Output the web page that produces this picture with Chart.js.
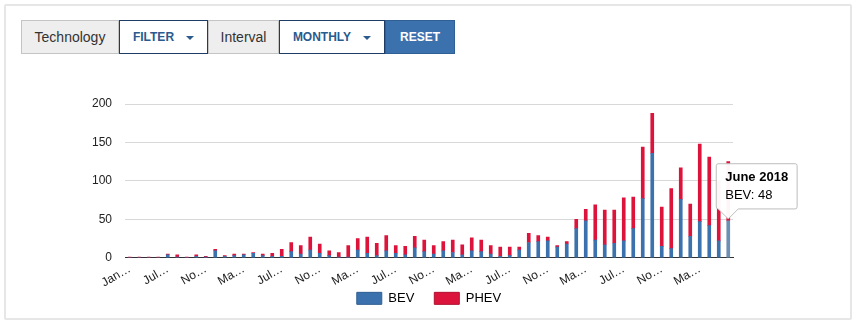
<!DOCTYPE html>
<html>
<head>
<meta charset="utf-8">
<script src="https://cdn.jsdelivr.net/npm/chart.js@4.4.0/dist/chart.umd.min.js"></script>
<style>
  body { margin: 0; background: #fff; font-family: "Liberation Sans", Arial, sans-serif; overflow: hidden; }
  .panel { position: absolute; left: 4px; top: 4px; width: 844px; height: 312px; border: 2px solid #e6e6e6; border-radius: 2px; }
  .toolbar { position: absolute; left: 21px; top: 20px; height: 34px; display: flex; }
  .toolbar div { box-sizing: border-box; height: 34px; line-height: 32px; text-align: center; }
  .label { background: #eee; border: 1px solid #c4c4c4; color: #333; font-size: 14px; }
  .drop { background: #fff; border: 1px solid #1f3c66; color: #2a5a8e; font-size: 12px; font-weight: bold; }
  .drop span { display: inline-block; margin-left: 12px; vertical-align: middle; border-left: 4px solid transparent; border-right: 4px solid transparent; border-top: 4px solid #2a5a8e; }
  .reset { background: #3b72ad; border: 1px solid #2f5f93; color: #fff; font-size: 12px; font-weight: bold; }
  .chartbox { position: absolute; left: 0; top: 60px; width: 856px; height: 277px; }
</style>
</head>
<body>
<div class="panel"></div>
<div class="toolbar">
  <div class="label" style="width:98px">Technology</div>
  <div class="drop" style="width:89px">FILTER<span></span></div>
  <div class="label" style="width:71px">Interval</div>
  <div class="drop" style="width:106px">MONTHLY<span></span></div>
  <div class="reset" style="width:70px">RESET</div>
</div>
<div class="chartbox"><canvas id="evChart"></canvas></div>
<script>
// monthly registrations, last bar is June 2018
var months = [
    'January 2013', 'March 2013', 'April 2013', 'June 2013',
    'July 2013', 'August 2013', 'September 2013', 'October 2013',
    'November 2013', 'December 2013', 'January 2014', 'February 2014',
    'March 2014', 'April 2014', 'May 2014', 'June 2014',
    'July 2014', 'August 2014', 'September 2014', 'October 2014',
    'November 2014', 'December 2014', 'January 2015', 'February 2015',
    'March 2015', 'April 2015', 'May 2015', 'June 2015',
    'July 2015', 'August 2015', 'September 2015', 'October 2015',
    'November 2015', 'December 2015', 'January 2016', 'February 2016',
    'March 2016', 'April 2016', 'May 2016', 'June 2016',
    'July 2016', 'August 2016', 'September 2016', 'October 2016',
    'November 2016', 'December 2016', 'January 2017', 'February 2017',
    'March 2017', 'April 2017', 'May 2017', 'June 2017',
    'July 2017', 'August 2017', 'September 2017', 'October 2017',
    'November 2017', 'December 2017', 'January 2018', 'February 2018',
    'March 2018', 'April 2018', 'May 2018', 'June 2018'
];
var bev = [
    0, 0, 0, 0, 4, 1, 0, 2, 1, 9, 2, 3, 4, 6, 3, 2,
    2, 8, 5, 10, 6, 3, 1, 1, 10, 6, 3, 9, 6, 4, 13, 8,
    5, 9, 7, 4, 9, 8, 5, 2, 3, 10, 20, 21, 22, 14, 18, 38,
    48, 23, 17, 19, 22, 38, 77, 136, 15, 12, 76, 28, 47, 42, 22, 48
];
var phev = [
    1, 1, 1, 1, 1, 3, 1, 2, 1, 2, 1, 2, 1, 1, 2, 4,
    9, 12, 11, 17, 12, 6, 6, 15, 15, 21, 16, 20, 10, 11, 15, 15,
    11, 12, 16, 13, 17, 15, 11, 12, 11, 4, 12, 8, 5, 2, 3, 12,
    15, 46, 45, 43, 56, 41, 67, 52, 51, 78, 41, 42, 101, 89, 78, 77
];
var yTicks = [0, 50, 100, 150, 200];

// shortened axis text, like the original widget does
var shortMonth = { January: 'Jan', March: 'Ma', May: 'Ma', July: 'Jul', November: 'No' };

var fontFamily = '"Liberation Sans", Arial, sans-serif';
Chart.defaults.font.family = fontFamily;
Chart.defaults.color = '#222';

// pull the legend up closer to the axis labels
var legendNudge = {
    id: 'legendNudge',
    afterLayout: function (c) {
        var lg = c.legend;
        var dy = lg.top - (c.chartArea.bottom + 14);
        lg.top -= dy;
        lg.bottom -= dy;
    }
};

const ctx = document.getElementById('evChart');
var chart = new Chart(ctx, {
    type: 'bar',
    data: {
        labels: months,
        datasets: [{
            label: 'BEV',
            data: bev,
            backgroundColor: '#3b72ad',
            hoverBackgroundColor: '#6d8fb3',
            borderColor: '#2f5f93',
            borderWidth: 0,
            barThickness: 3
        }, {
            label: 'PHEV',
            data: phev,
            backgroundColor: '#dc143c',
            hoverBackgroundColor: '#dc143c',
            borderColor: '#b0102f',
            borderWidth: 0,
            barThickness: 3
        }]
    },
    plugins: [legendNudge],
    options: {
        responsive: true,
        maintainAspectRatio: false,
        animation: false,
        layout: {
            padding: { left: 91, right: 89, top: 44, bottom: 0 }
        },
        scales: {
            x: {
                stacked: true,
                grid: { display: false, drawTicks: false },
                border: { display: true, color: '#333', width: 1 },
                ticks: {
                    autoSkip: false,
                    minRotation: 30,
                    maxRotation: 30,
                    padding: 4,
                    font: { size: 12 },
                    color: '#222',
                    callback: function (val, i) {
                        if (i % 4 !== 0) return null;
                        var m = months[i].split(' ')[0];
                        return shortMonth[m] + '\u2026';
                    }
                }
            },
            y: {
                stacked: true,
                min: 0,
                max: 200,
                afterFit: function (scale) { scale.width = 34; },
                afterBuildTicks: function (scale) {
                    scale.ticks = yTicks.map(v => ({ value: v }));
                },
                grid: { color: '#d8d8d8', drawTicks: false },
                border: { display: false },
                ticks: {
                    padding: 13,
                    font: { size: 12 },
                    color: '#222'
                }
            },
            // empty right axis so the legend centres under the plot
            yRight: {
                position: 'right',
                afterFit: function (scale) { scale.width = 34; },
                grid: { display: false },
                border: { display: false },
                ticks: { display: false }
            }
        },
        plugins: {
            legend: {
                position: 'bottom',
                labels: {
                    boxWidth: 25,
                    boxHeight: 12,
                    padding: 20,
                    font: { size: 13 },
                    color: '#111',
                    generateLabels: function (c) {
                        return c.data.datasets.map((d, i) => ({
                            text: d.label,
                            fillStyle: d.backgroundColor,
                            strokeStyle: d.borderColor,
                            lineWidth: 1,
                            datasetIndex: i
                        }));
                    }
                }
            },
            tooltip: {
                backgroundColor: 'rgba(255,255,255,0.96)',
                borderColor: '#bdbdbd',
                borderWidth: 1,
                titleColor: '#000',
                bodyColor: '#000',
                titleFont: { size: 13, weight: 'bold' },
                bodyFont: { size: 13 },
                titleMarginBottom: 2,
                padding: { top: 6, bottom: 6, left: 9, right: 9 },
                cornerRadius: 2,
                caretSize: 10,
                caretPadding: 2,
                displayColors: false,
                xAlign: 'left',
                yAlign: 'bottom',
                callbacks: {
                    label: function (item) {
                        return item.dataset.label + ': ' + item.raw;
                    }
                }
            }
        }
    }
});

// show the June 2018 BEV tooltip like in the screenshot
var last = months.length - 1;
var bar = chart.getDatasetMeta(0).data[last];
chart.setActiveElements([{ datasetIndex: 0, index: last }]);
chart.tooltip.setActiveElements([{ datasetIndex: 0, index: last }], { x: bar.x, y: bar.y });
chart.update();
</script>
</body>
</html>
